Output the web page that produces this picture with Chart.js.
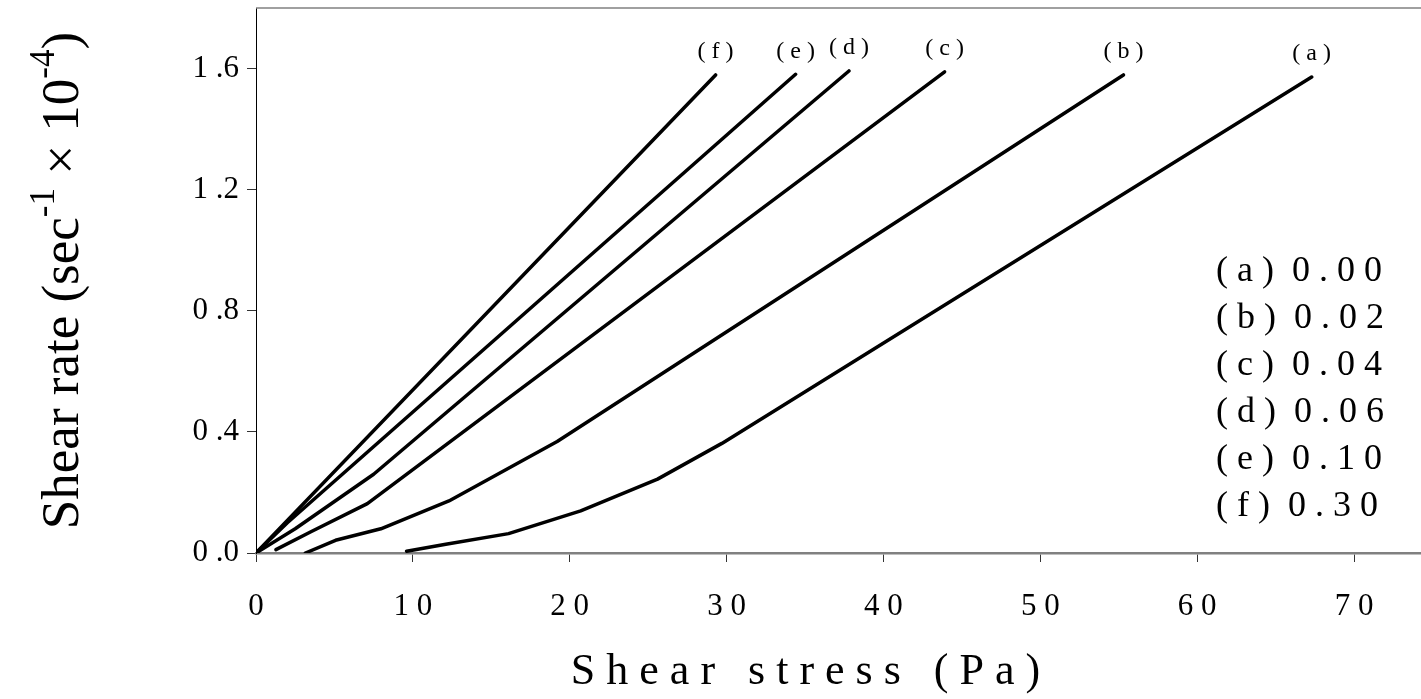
<!DOCTYPE html>
<html>
<head>
<meta charset="utf-8">
<script src="https://cdn.jsdelivr.net/npm/chart.js@4.4.1/dist/chart.umd.min.js"></script>
<style>
  html, body { margin: 0; padding: 0; background: #fff; overflow: hidden; }
  #wrap { width: 1421px; height: 699px; position: relative; }
</style>
</head>
<body>
<div id="wrap"><canvas id="shearChart"></canvas></div>
<script>
// curve names and the concentration each one stands for
var curveNames = ['(a)', '(b)', '(c)', '(d)', '(e)', '(f)'];
var concentrations = ['0.00', '0.02', '0.04', '0.06', '0.10', '0.30'];

// shear stress (Pa) / shear rate (sec-1 x 10-4)
var stressA = [9.6, 12.1, 16.1, 20.7, 25.6, 29.7, 67.3];
var rateA   = [0.006, 0.029, 0.064, 0.139, 0.244, 0.362, 1.572];
var stressB = [3.15, 5.07, 7.96, 12.3, 19.2, 55.3];
var rateB   = [0.0, 0.042, 0.08, 0.172, 0.368, 1.579];
var stressC = [1.27, 3.5, 7.1, 43.9];
var rateC   = [0.011, 0.07, 0.163, 1.589];
var stressD = [0, 2.5, 7.5, 37.8];
var rateD   = [0, 0.08, 0.26, 1.592];
var stressE = [0, 2.0, 34.4];
var rateE   = [0, 0.1, 1.581];
var stressF = [0, 29.3];
var rateF   = [0, 1.579];

var xTicks = [0, 10, 20, 30, 40, 50, 60, 70];
var yTicks = [0, 0.4, 0.8, 1.2, 1.6];

var serif = "'Liberation Serif', 'Times New Roman', serif";

function spaced(s) {
  return String(s).split('').join(' ');
}

function pairs(xs, ys) {
  return xs.map(function (x, i) { return { x: x, y: ys[i] }; });
}

var allStress = [stressA, stressB, stressC, stressD, stressE, stressF];
var allRate = [rateA, rateB, rateC, rateD, rateE, rateF];

var datasets = curveNames.map(function (name, i) {
  return {
    label: name,
    data: pairs(allStress[i], allRate[i]),
    borderColor: '#000',
    borderWidth: 3.5,
    borderCapStyle: 'round',
    borderJoinStyle: 'round',
    pointRadius: 0,
    tension: 0,
    fill: false
  };
});

// labels above each curve end, the key on the right, the top frame line and the y title
var extras = {
  id: 'extras',
  afterDraw: function (chart) {
    var ctx = chart.ctx;
    var area = chart.chartArea;
    ctx.save();

    // top frame
    ctx.strokeStyle = '#808080';
    ctx.lineWidth = 1.5;
    ctx.beginPath();
    ctx.moveTo(area.left, area.top);
    ctx.lineTo(area.right, area.top);
    ctx.stroke();

    ctx.fillStyle = '#000';
    ctx.textAlign = 'center';
    ctx.textBaseline = 'middle';
    ctx.font = '24px ' + serif;
    curveNames.forEach(function (name, i) {
      var pts = chart.getDatasetMeta(i).data;
      var last = pts[pts.length - 1];
      ctx.fillText(spaced(name), last.x, last.y - 23);
    });

    ctx.textAlign = 'left';
    ctx.font = '36px ' + serif;
    curveNames.forEach(function (name, i) {
      ctx.fillText(spaced(name) + '  ' + spaced(concentrations[i]), area.right - 205, area.top + 264 + i * 47);
    });

    // y axis title with real superscripts
    var parts = [
      { t: 'Shear rate (sec', sup: false },
      { t: '-1', sup: true },
      { t: ' \u00d7 10', sup: false },
      { t: '-4', sup: true },
      { t: ')', sup: false }
    ];
    var big = '53px ' + serif, small = '35px ' + serif;
    var total = 0;
    parts.forEach(function (p) {
      ctx.font = p.sup ? small : big;
      p.w = ctx.measureText(p.t).width;
      total += p.w;
    });
    ctx.translate(57, (area.top + area.bottom) / 2);
    ctx.rotate(-Math.PI / 2);
    ctx.textBaseline = 'alphabetic';
    var x = -total / 2;
    parts.forEach(function (p) {
      ctx.font = p.sup ? small : big;
      ctx.fillText(p.t, x, p.sup ? -3 : 21);
      x += p.w;
    });
    ctx.restore();
  }
};

new Chart(document.getElementById('shearChart').getContext('2d'), {
  type: 'line',
  data: { datasets: datasets },
  plugins: [extras],
  options: {
    responsive: true,
    maintainAspectRatio: false,
    animation: false,
    layout: { padding: { top: 8, right: 0, bottom: 0, left: 0 } },
    plugins: {
      legend: { display: false },
      tooltip: { enabled: false }
    },
    scales: {
      x: {
        type: 'linear',
        min: 0,
        max: 74.27,
        afterFit: function (scale) {
          scale.height = 146;
          scale.paddingLeft = 0;
          scale.paddingRight = 0;
        },
        afterBuildTicks: function (scale) {
          scale.ticks = xTicks.map(function (v) { return { value: v }; });
        },
        ticks: {
          color: '#000',
          padding: 26,
          maxRotation: 0,
          font: { family: serif, size: 31 },
          callback: function (v) { return spaced(v); }
        },
        grid: {
          display: true,
          drawOnChartArea: false,
          drawTicks: true,
          tickLength: 9,
          color: '#333'
        },
        border: { display: true, color: '#808080', width: 2.5 },
        title: {
          display: true,
          text: spaced('Shear stress (Pa)') + '\u2003\u2002',
          color: '#000',
          font: { family: serif, size: 44 },
          padding: { top: 0, bottom: 0 }
        }
      },
      y: {
        type: 'linear',
        min: 0,
        max: 1.8,
        afterFit: function (scale) {
          scale.width = 256;
          scale.paddingTop = 0;
          scale.paddingBottom = 0;
        },
        afterBuildTicks: function (scale) {
          scale.ticks = yTicks.map(function (v) { return { value: v }; });
        },
        ticks: {
          color: '#000',
          padding: 8,
          font: { family: serif, size: 31 },
          callback: function (v) {
            var s = v.toFixed(1);
            return s.charAt(0) + ' ' + s.slice(1);
          }
        },
        grid: {
          display: true,
          drawOnChartArea: false,
          drawTicks: true,
          tickLength: 9,
          color: '#333'
        },
        border: { display: true, color: '#000', width: 1 }
      }
    }
  }
});
</script>
</body>
</html>
